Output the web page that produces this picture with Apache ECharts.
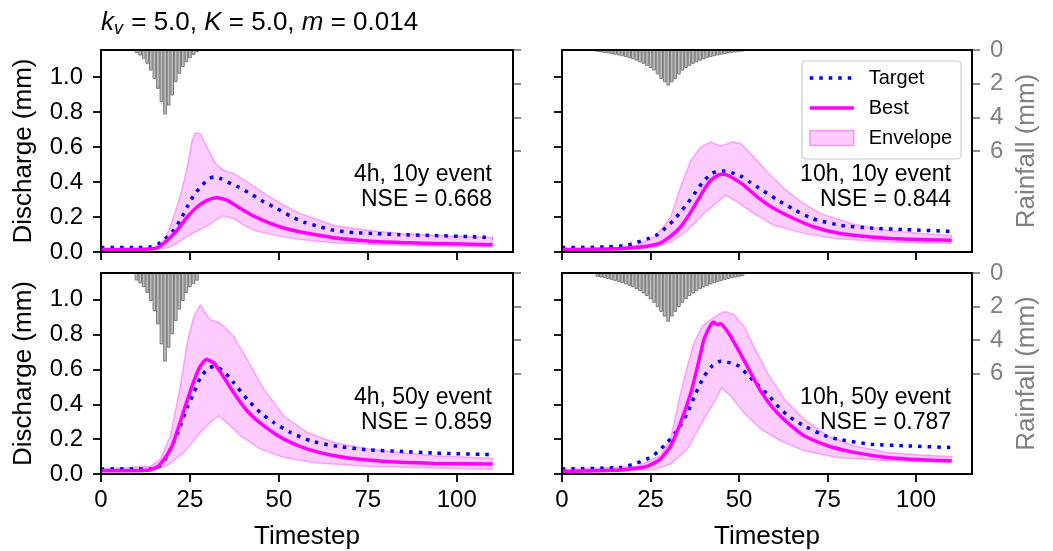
<!DOCTYPE html>
<html><head><meta charset="utf-8">
<script src="https://cdn.jsdelivr.net/npm/echarts@6/dist/echarts.min.js"></script>
<style>html,body{margin:0;padding:0;background:#fff}#c{width:1053px;height:551px}</style>
</head><body><div id="c"></div>
<script>
// ---------------- data ----------------
const panelNames = ['4h, 10y event', '10h, 10y event', '4h, 50y event', '10h, 50y event'];
const nseValues = ['0.668', '0.844', '0.859', '0.787'];
const xTicks = [0, 25, 50, 75, 100];
const yTicks = [0, 0.2, 0.4, 0.6, 0.8, 1.0];
const rainTicks = [0, 2, 4, 6];

const rainSteps4h = [10,11,12,13,14,15,16,17,18,19,20,21,22,23,24,25,26,27];
const rain4h10y = [0.17,0.33,0.52,0.82,1.22,1.71,2.31,3.1,3.83,3.3,2.7,1.91,1.42,1.02,0.72,0.49,0.29,0.13];
const rain4h50y = [0.45,0.62,0.85,1.19,1.68,2.28,3.07,4.26,5.29,4.46,3.66,2.87,2.18,1.68,1.19,0.85,0.65,0.46];

const rainSteps10h = [10,11,12,13,14,15,16,17,18,19,20,21,22,23,24,25,26,27,28,29,30,31,32,33,34,35,36,37,38,39,40,41,42,43,44,45,46,47,48,49,50,51];
const rain10h10y = [0.11,0.14,0.17,0.2,0.24,0.28,0.32,0.37,0.42,0.48,0.55,0.63,0.73,0.82,0.94,1.07,1.22,1.45,1.72,1.92,2.11,
                    1.92,1.72,1.45,1.22,1.07,0.94,0.82,0.73,0.63,0.55,0.48,0.42,0.37,0.32,0.28,0.24,0.2,0.17,0.14,0.11,0.09];
const rain10h50y = [0.23,0.27,0.31,0.36,0.41,0.47,0.53,0.6,0.68,0.76,0.85,0.96,1.09,1.22,1.38,1.56,1.78,2.04,2.32,2.6,2.91,
                    2.6,2.32,2.04,1.78,1.56,1.38,1.22,1.09,0.96,0.85,0.76,0.68,0.6,0.53,0.47,0.41,0.36,0.31,0.27,0.23,0.19];

// discharge curves: [timestep, value]
const targetA = [[0,0.025],[10,0.025],[14,0.03],[16,0.045],[17.6,0.067],[20.4,0.124],[22.5,0.19],[24.4,0.265],[26.3,0.33],[28.4,0.381],[30.5,0.42],[31.7,0.429],[33.5,0.42],[35.5,0.40],[38.7,0.371],[42,0.333],[45.8,0.286],[49.5,0.248],[53.3,0.204],[57,0.171],[61.7,0.143],[65.5,0.124],[71,0.111],[77.6,0.105],[84,0.099],[93.6,0.094],[103,0.088],[110,0.082]];
const bestA = [[0,0.014],[12,0.015],[15.8,0.023],[18.6,0.067],[21.4,0.124],[24.2,0.2],[27,0.257],[29.8,0.295],[32.6,0.31],[35.5,0.295],[39.2,0.248],[43,0.204],[46.7,0.171],[51.4,0.137],[56.1,0.114],[65.5,0.082],[74.9,0.063],[84.2,0.054],[93.6,0.048],[110,0.042]];
const upperA = [[0,0.016],[12,0.017],[15,0.025],[18,0.07],[20.4,0.2],[22.4,0.33],[24.2,0.48],[25.6,0.638],[26.5,0.682],[27.9,0.676],[29.8,0.6],[32.2,0.505],[34.5,0.467],[37.3,0.448],[41.1,0.40],[46.7,0.324],[51.4,0.267],[56.1,0.219],[65.5,0.152],[74.9,0.124],[84.2,0.105],[93.6,0.095],[110,0.082]];
const lowerA = [[0,0.012],[14,0.013],[18.6,0.023],[21.4,0.05],[24.2,0.09],[27,0.12],[29.8,0.148],[32.5,0.185],[34.3,0.207],[37.3,0.19],[40,0.155],[43,0.124],[46.7,0.105],[51.4,0.085],[56.1,0.071],[65.5,0.052],[84.2,0.038],[110,0.029]];

const targetB = [[0,0.025],[12.7,0.029],[18.3,0.038],[21.2,0.055],[24.3,0.076],[27,0.1],[29.2,0.137],[31.5,0.18],[33.5,0.229],[35.5,0.28],[37.3,0.33],[39.8,0.40],[42.4,0.45],[45.3,0.463],[48.1,0.452],[50.9,0.429],[53,0.4],[55.6,0.366],[60.6,0.301],[65.6,0.242],[70.8,0.19],[78.8,0.152],[87.3,0.137],[96.7,0.128],[110,0.118]];
const bestB = [[0,0.014],[16.5,0.019],[24,0.033],[27.8,0.052],[30.7,0.09],[33.5,0.143],[36.4,0.229],[39.2,0.324],[41.6,0.4],[44,0.438],[45.8,0.444],[48.6,0.419],[51.4,0.381],[55.2,0.314],[59.9,0.248],[65.6,0.19],[71.2,0.143],[77.8,0.109],[87.3,0.086],[96.7,0.074],[110,0.067]];
const upperB = [[0,0.02],[15,0.024],[21.2,0.038],[25.9,0.086],[28.5,0.14],[30.7,0.2],[33.5,0.371],[36.4,0.524],[39.2,0.6],[42,0.629],[44.8,0.605],[48.1,0.629],[50.5,0.62],[53.3,0.562],[58,0.457],[62.8,0.362],[67.5,0.286],[73.1,0.219],[82.5,0.158],[91.9,0.124],[101.4,0.105],[110,0.095]];
const lowerB = [[0,0.01],[20,0.015],[25.9,0.025],[30.7,0.057],[35.4,0.124],[41.1,0.238],[44.8,0.3],[46.2,0.324],[49.5,0.286],[54.2,0.219],[59.9,0.152],[68.4,0.105],[77.8,0.076],[91.9,0.057],[110,0.048]];

const targetC = [[0,0.029],[13.9,0.029],[16.7,0.048],[18.6,0.105],[20.4,0.181],[22.3,0.276],[24.2,0.381],[26.1,0.467],[27.9,0.552],[29.8,0.6],[31.7,0.619],[34.5,0.59],[37.3,0.524],[41.1,0.429],[44.8,0.352],[48.6,0.295],[53.3,0.238],[58.9,0.19],[65.5,0.162],[74.9,0.139],[84.2,0.13],[93.6,0.12],[110,0.111]];
const bestC = [[0,0.019],[13,0.022],[15.8,0.04],[18.1,0.095],[20,0.162],[21.9,0.276],[23.7,0.39],[25.6,0.505],[27.5,0.604],[29.6,0.657],[31.7,0.638],[34,0.571],[37.3,0.467],[41.1,0.362],[45.8,0.276],[51.4,0.2],[58,0.143],[65.5,0.105],[74.9,0.08],[84.2,0.067],[93.6,0.061],[110,0.057]];
const upperC = [[0,0.029],[13.9,0.044],[16.7,0.086],[19.5,0.219],[22.3,0.505],[24.2,0.752],[26.1,0.905],[27.9,0.971],[29.3,0.924],[30.7,0.886],[33.5,0.867],[37.3,0.79],[41.1,0.657],[45.8,0.486],[51.4,0.333],[58,0.238],[65.5,0.181],[74.9,0.143],[84.2,0.124],[93.6,0.105],[110,0.091]];
const lowerC = [[0,0.015],[14,0.017],[18.6,0.048],[23.3,0.124],[27.9,0.238],[31.7,0.314],[33.1,0.333],[35.4,0.295],[39.2,0.219],[44.8,0.143],[51.4,0.095],[60.8,0.063],[74.9,0.044],[93.6,0.034],[110,0.029]];

const targetD = [[0,0.029],[16.5,0.038],[21.2,0.063],[24,0.086],[26.9,0.124],[29.7,0.181],[32.5,0.248],[35.4,0.35],[37.7,0.46],[40.1,0.56],[42.4,0.62],[44.8,0.648],[47.6,0.638],[50,0.619],[52.3,0.571],[55.6,0.505],[58.5,0.448],[61.3,0.381],[64.6,0.324],[68.4,0.276],[73.1,0.229],[77.8,0.2],[87.3,0.171],[96.7,0.162],[110,0.152]];
const bestD = [[0,0.015],[16.5,0.023],[24,0.044],[27.8,0.086],[30.7,0.162],[33.5,0.295],[36.4,0.467],[38.3,0.619],[40.1,0.771],[42,0.857],[42.8,0.872],[43.9,0.857],[44.8,0.863],[46.7,0.819],[49.5,0.724],[52.3,0.619],[56.1,0.476],[59.9,0.371],[63.7,0.295],[68.4,0.219],[75,0.162],[82.5,0.124],[91.9,0.095],[101.4,0.082],[110,0.076]];
const upperD = [[0,0.025],[21.2,0.044],[27.8,0.105],[30.7,0.2],[33.5,0.467],[35.4,0.619],[37.3,0.752],[39.6,0.848],[42,0.886],[44.8,0.924],[46.2,0.933],[48.6,0.914],[51.4,0.848],[54.2,0.733],[58,0.581],[62.8,0.429],[68.4,0.314],[75,0.219],[82.5,0.162],[91.9,0.124],[101.4,0.109],[110,0.101]];
const lowerD = [[0,0.01],[25.9,0.025],[30.7,0.057],[35.4,0.143],[40.1,0.314],[43.4,0.429],[45.1,0.495],[47.6,0.448],[51.4,0.352],[56.1,0.257],[61.8,0.19],[68.4,0.133],[77.8,0.095],[91.9,0.076],[110,0.067]];

// ---------------- layout / style ----------------
const FONT = '"Liberation Sans", Arial, Helvetica, sans-serif';
const grids = [
  {left: 101, top: 50, width: 412, height: 202},
  {left: 562, top: 50, width: 410, height: 202},
  {left: 101, top: 273, width: 412, height: 202},
  {left: 562, top: 273, width: 410, height: 202}
];
const panels = [
  {rainT: rainSteps4h, rain: rain4h10y, target: targetA, best: bestA, upper: upperA, lower: lowerA},
  {rainT: rainSteps10h, rain: rain10h10y, target: targetB, best: bestB, upper: upperB, lower: lowerB},
  {rainT: rainSteps4h, rain: rain4h50y, target: targetC, best: bestC, upper: upperC, lower: lowerC},
  {rainT: rainSteps10h, rain: rain10h50y, target: targetD, best: bestD, upper: upperD, lower: lowerD}
];
const BLACK = {color: '#000', width: 1.8};
const GRAY = '#808080';
const TARGET_LINE = {color: '#0000ff', width: 3.5, type: [3.5, 6], cap: 'butt'};
const BEST_LINE = {color: '#ff00ff', width: 3.5};

const xAxes = [], yAxes = [], series = [], graphics = [];
panels.forEach((p, i) => {
  const bottom = i >= 2;
  xAxes.push({
    gridIndex: i, type: 'value', min: 0, max: 115.8,
    axisLine: {show: true, onZero: false, lineStyle: BLACK},
    axisTick: {show: true, inside: false, length: 8, lineStyle: BLACK, customValues: xTicks},
    axisLabel: {show: bottom, customValues: xTicks, margin: 14, fontSize: 24, color: '#000', fontFamily: FONT},
    splitLine: {show: false},
    name: bottom ? 'Timestep' : '', nameLocation: 'middle', nameGap: 50,
    nameTextStyle: {fontSize: 26, color: '#000', fontFamily: FONT}
  });
});
panels.forEach((p, i) => {
  const left = i % 2 === 0;
  yAxes.push({
    gridIndex: i, type: 'value', min: 0, max: 1.154, position: 'left',
    axisLine: {show: true, onZero: false, lineStyle: BLACK},
    axisTick: {show: true, inside: false, length: 8, lineStyle: BLACK, customValues: yTicks},
    axisLabel: {show: left, customValues: yTicks, formatter: v => v.toFixed(1), margin: 18, fontSize: 24, color: '#000', fontFamily: FONT},
    splitLine: {show: false},
    name: left ? 'Discharge (mm)' : '', nameLocation: 'middle', nameGap: 64, nameRotate: 90,
    nameTextStyle: {fontSize: 26, color: '#000', fontFamily: FONT}
  });
});
panels.forEach((p, i) => {
  const right = i % 2 === 1;
  yAxes.push({
    gridIndex: i, type: 'value', min: 0, max: 12, inverse: true, position: 'right',
    axisLine: {show: true, onZero: false, lineStyle: BLACK},
    axisTick: {show: true, inside: false, length: 8, lineStyle: {color: GRAY, width: 1.8}, customValues: rainTicks},
    axisLabel: {show: right, customValues: rainTicks, margin: 18, fontSize: 24, color: GRAY, fontFamily: FONT},
    splitLine: {show: false},
    name: right ? 'Rainfall (mm)' : '', nameLocation: 'middle', nameGap: 42, nameRotate: 90,
    nameTextStyle: {fontSize: 26, color: GRAY, fontFamily: FONT}
  });
});

panels.forEach((p, i) => {
  series.push({
    type: 'bar', xAxisIndex: i, yAxisIndex: 4 + i, silent: true,
    data: p.rainT.map((t, k) => [t, p.rain[k]]),
    barWidth: 3.7,
    itemStyle: {color: '#bdbdbd', borderColor: '#7a7a7a', borderWidth: 1},
    z: 1
  });
  series.push({
    type: 'custom', name: 'Envelope', xAxisIndex: i, yAxisIndex: i, silent: true,
    data: [[0, 0]],
    renderItem: (params, api) => {
      const up = p.upper.map(q => api.coord(q));
      const lo = p.lower.slice().reverse().map(q => api.coord(q));
      return {
        type: 'polygon',
        shape: {points: up.concat(lo)},
        style: {fill: 'rgba(255,0,255,0.2)', stroke: 'rgba(255,0,255,0.3)', lineWidth: 1.5}
      };
    },
    z: 2
  });
  series.push({
    type: 'line', name: 'Target', xAxisIndex: i, yAxisIndex: i, silent: true,
    data: p.target, symbol: 'none', smooth: 0.2,
    lineStyle: TARGET_LINE, itemStyle: {color: '#0000ff'}, z: 3
  });
  series.push({
    type: 'line', name: 'Best', xAxisIndex: i, yAxisIndex: i, silent: true,
    data: p.best, symbol: 'none', smooth: 0.2,
    lineStyle: BEST_LINE, itemStyle: {color: '#ff00ff'}, z: 4
  });
  const g = grids[i];
  graphics.push({
    type: 'text', x: g.left + g.width - 21, y: g.top + 137, z: 5,
    style: {
      text: panelNames[i] + '\nNSE = ' + nseValues[i],
      align: 'right', verticalAlign: 'middle',
      font: '23px ' + FONT, lineHeight: 25, fill: '#000'
    }
  });
});

const hiddenSymbol = {color: 'rgba(0,0,0,0)', borderWidth: 0, opacity: 0};
const option = {
  animation: false,
  backgroundColor: '#fff',
  textStyle: {fontFamily: FONT},
  title: {
    left: 101, top: 8, padding: 0,
    text: '{i|k}{s|v}{n| = 5.0, }{i|K}{n| = 5.0, }{i|m}{n| = 0.014}',
    textStyle: {
      fontWeight: 'normal', fontSize: 26,
      rich: {
        i: {fontStyle: 'italic', fontWeight: 'normal', fontSize: 26, lineHeight: 30, color: '#000', fontFamily: FONT},
        s: {fontStyle: 'italic', fontWeight: 'normal', fontSize: 18, lineHeight: 18, padding: [12, 1, 0, 0], verticalAlign: 'top', color: '#000', fontFamily: FONT},
        n: {fontWeight: 'normal', fontSize: 26, lineHeight: 30, color: '#000', fontFamily: FONT}
      }
    }
  },
  legend: {
    left: 802, top: 61, orient: 'vertical', selectedMode: false,
    itemWidth: 44, itemHeight: 15, itemGap: 10,
    padding: [7, 9, 11, 6],
    borderColor: '#cccccc', borderWidth: 1.2, borderRadius: 4,
    backgroundColor: 'rgba(255,255,255,0.8)',
    textStyle: {fontSize: 20, color: '#000', fontFamily: FONT, padding: [0, 0, 0, 10]},
    data: [
      {name: 'Target', itemStyle: hiddenSymbol, lineStyle: TARGET_LINE},
      {name: 'Best', itemStyle: hiddenSymbol, lineStyle: BEST_LINE},
      {name: 'Envelope', icon: 'rect', itemStyle: {color: 'rgba(255,0,255,0.2)', borderColor: 'rgba(255,0,255,0.35)', borderWidth: 1.5}}
    ]
  },
  grid: grids.map(g => Object.assign({show: true, borderColor: '#000', borderWidth: 1.8, backgroundColor: 'transparent', z: 10}, g)),
  xAxis: xAxes,
  yAxis: yAxes,
  series: series,
  graphic: graphics
};
const chart = echarts.init(document.getElementById('c'), null, {renderer: 'canvas'});
chart.setOption(option);
</script>
</body></html>
